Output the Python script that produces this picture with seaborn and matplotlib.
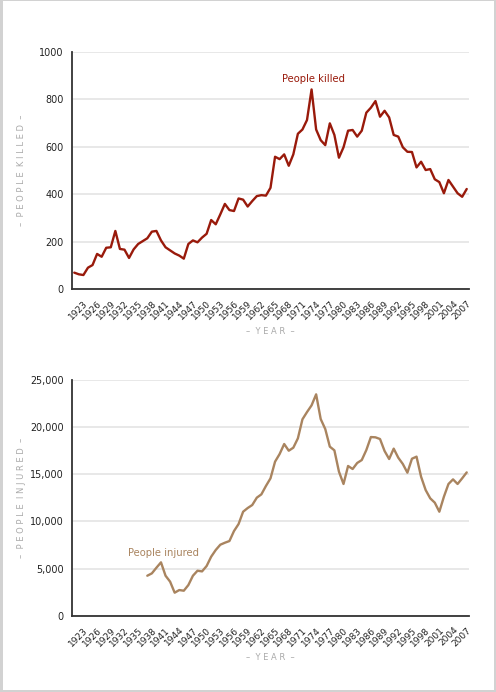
import numpy as np
import pandas as pd
import matplotlib
matplotlib.use("Agg")
import matplotlib.pyplot as plt
import seaborn as sns
from matplotlib.patches import Rectangle
from matplotlib.ticker import FuncFormatter

sns.set_theme(style="white")
plt.rcParams['font.family'] = ['DejaVu Sans']

years_killed = list(range(1921, 2008))
killed = [69, 62, 59, 90, 101, 148, 136, 174, 176, 245,
          169, 166, 131, 167, 190, 202, 214, 242, 245, 205,
          176, 163, 150, 141, 128, 190, 205, 197, 217, 233,
          291, 273, 315, 359, 333, 329, 382, 377, 348, 371,
          392, 396, 394, 427, 558, 548, 568, 520, 568, 655,
          673, 713, 842, 673, 628, 607, 699, 650, 554, 598,
          668, 671, 643, 668, 744, 765, 793, 727, 752, 724,
          650, 643, 598, 579, 578, 513, 537, 502, 506, 463,
          451, 404, 460, 432, 404, 389, 422]

years_injured = list(range(1937, 2008))
injured = [4240, 4490, 5090, 5660, 4240, 3610, 2440, 2720, 2650, 3250,
           4240, 4770, 4700, 5270, 6260, 6970, 7530, 7740, 7920, 8980,
           9720, 11030, 11420, 11740, 12520, 12870, 13760, 14570, 16340, 17150,
           18210, 17500, 17820, 18810, 20830, 21600, 22310, 23480, 20860, 19800,
           17930, 17540, 15280, 13970, 15880, 15560, 16200, 16510, 17570, 18950,
           18920, 18740, 17470, 16620, 17720, 16760, 16090, 15170, 16650, 16870,
           14740, 13330, 12450, 11990, 11030, 12620, 13970, 14460, 13970, 14570,
           15200]

xtick_years = list(range(1923, 2008, 3))
killed_ticks = [0, 200, 400, 600, 800, 1000]
injured_ticks = [0, 5000, 10000, 15000, 20000, 25000]

col_killed = "#991a0b"
col_injured = "#a9845f"
tick_col = "#222222"
label_col = "#aaaaaa"

df_k = pd.DataFrame({"year": years_killed, "value": killed})
df_i = pd.DataFrame({"year": years_injured, "value": injured})

W, H = 496, 692
fig = plt.figure(figsize=(W / 100, H / 100), dpi=100)
fig.patch.set_facecolor("#d2d2d2")
fig.patches.append(Rectangle((3 / W, 2 / H), (494 - 3) / W, (690 - 1) / H,
                             transform=fig.transFigure, facecolor="white",
                             edgecolor="none", zorder=-5))

ax1 = fig.add_axes([72 / W, 1 - 289 / H, (469 - 72) / W, (289 - 52) / H])
ax2 = fig.add_axes([72 / W, 1 - 615.7 / H, (469 - 72) / W, (615.7 - 380) / H])


def style(ax, yticks, fmt, ylabel, h_px, xlab_px):
    ax.set_facecolor("none")
    ax.set_xlim(1920.5, 2007.5)
    ax.set_ylim(yticks[0], yticks[-1])
    ax.set_yticks(yticks)
    ax.yaxis.set_major_formatter(FuncFormatter(fmt))
    ax.set_xticks(xtick_years)
    ax.set_xticklabels([str(y) for y in xtick_years], rotation=45,
                       ha="right", va="top", rotation_mode="anchor")
    ax.grid(axis="y", color="#e6e6e6", linewidth=1.3)
    ax.grid(axis="x", visible=False)
    for s in ["top", "right"]:
        ax.spines[s].set_visible(False)
    for s in ["left", "bottom"]:
        ax.spines[s].set_color("#333333")
        ax.spines[s].set_linewidth(1.3)
    ax.tick_params(axis="x", direction="out", length=5, width=1.1,
                   color="#333333", labelsize=6.5, labelcolor=tick_col, pad=2)
    ax.tick_params(axis="y", length=0, labelsize=6.9, labelcolor=tick_col, pad=6)
    ax.set_xlabel("\u2013  Y E A R  \u2013", fontsize=6.0, color=label_col)
    ax.set_ylabel(ylabel, fontsize=6.0, color=label_col)
    ax.yaxis.set_label_coords((22 - 72) / 397, 0.5)
    ax.xaxis.set_label_coords(0.5, -xlab_px / h_px)
    ax.xaxis.label.set_va("center")
    ax.yaxis.label.set_va("center")


sns.lineplot(data=df_k, x="year", y="value", ax=ax1, color=col_killed,
             linewidth=1.7)
sns.lineplot(data=df_i, x="year", y="value", ax=ax2, color=col_injured,
             linewidth=1.7)

style(ax1, killed_ticks, lambda v, p: f"{int(v)}",
      "\u2013  P E O P L E  K I L L E D  \u2013", 237, 42)
style(ax2, injured_ticks, lambda v, p: f"{int(v):,}",
      "\u2013  P E O P L E  I N J U R E D  \u2013", 235.7, 42)

ax1.text(1973.5, 886, "People killed", color=col_killed, fontsize=7.2,
         ha="center", va="center")
ax2.text(1940.5, 6650, "People injured", color=col_injured, fontsize=7.2,
         ha="center", va="center")

fig.savefig("out.png", dpi=100, facecolor=fig.get_facecolor())
